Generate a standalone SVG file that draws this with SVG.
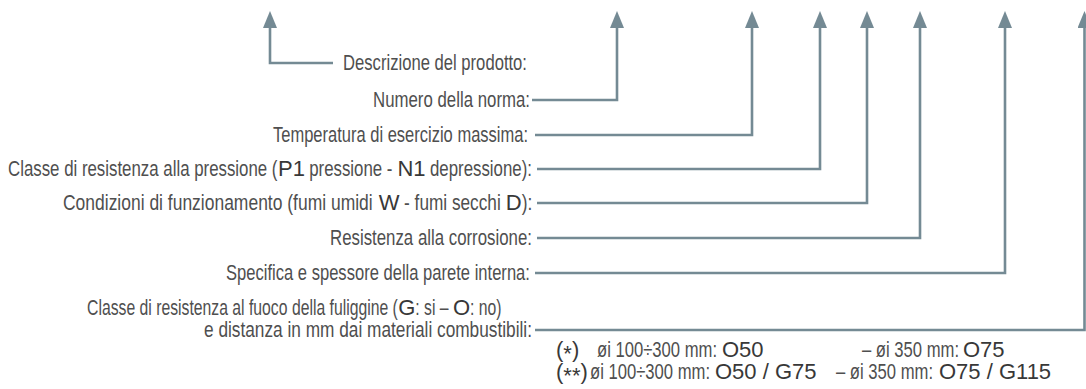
<svg xmlns="http://www.w3.org/2000/svg" width="1086" height="389" viewBox="0 0 1086 389">
<style>
.c{font-family:"Liberation Sans",Arial,sans-serif;font-size:22px;fill:#4f4f4f}
.b{font-family:"Liberation Sans",Arial,sans-serif;font-size:22px;fill:#383838}
.ln{fill:none;stroke:#748a94;stroke-width:2.6;marker-end:url(#ah)}
</style>
<defs>
<marker id="ah" viewBox="0 -7 17 14" refX="1" refY="0" markerWidth="17" markerHeight="14" markerUnits="userSpaceOnUse" orient="auto"><path d="M0,-7 L17,0 L0,7 Z" fill="#748a94"/></marker>
</defs>
<rect width="1086" height="389" fill="#ffffff"/>
<g id="connectors">
<path class="ln" d="M333,63 H270 V27"/>
<path class="ln" d="M532,100 H617 V27"/>
<path class="ln" d="M535,135 H752 V27"/>
<path class="ln" d="M537,169 H820 V27"/>
<path class="ln" d="M537,203 H867 V27"/>
<path class="ln" d="M537,238 H920 V27"/>
<path class="ln" d="M535,273 H1005 V27"/>
<path class="ln" d="M535,330 H1084.5 V27"/>
</g>
<g id="descrizione"><text class="c" transform="translate(343,70) scale(0.7562,1)">Descrizione del prodotto:</text></g>
<g id="norma"><text class="c" transform="translate(373,107) scale(0.7644,1)">Numero della norma:</text></g>
<g id="temperatura"><text class="c" transform="translate(273,142) scale(0.7508,1)">Temperatura di esercizio massima:</text></g>
<g id="pressione">
<text class="c" transform="translate(8,176) scale(0.7657,1)">Classe di resistenza alla pressione (</text>
<text class="b" x="278" y="176">P1</text>
<text class="c" transform="translate(309.2,176) scale(0.7656,1)">pressione -</text>
<text class="b" x="397.4" y="176">N1</text>
<text class="c" transform="translate(430,176) scale(0.7652,1)">depressione):</text>
</g>
<g id="condizioni">
<text class="c" transform="translate(63,210) scale(0.794,1)">Condizioni di funzionamento (fumi umidi</text>
<text class="b" x="378.8" y="210">W</text>
<text class="c" transform="translate(404.1,210) scale(0.783,1)">- fumi secchi</text>
<text class="b" x="505.8" y="210">D</text>
<text class="c" transform="translate(521.8,210) scale(0.789,1)">):</text>
</g>
<g id="corrosione"><text class="c" transform="translate(330,245) scale(0.765,1)">Resistenza alla corrosione:</text></g>
<g id="parete"><text class="c" transform="translate(226,280) scale(0.7534,1)">Specifica e spessore della parete interna:</text></g>
<g id="fuoco">
<text class="c" transform="translate(87,315) scale(0.7165,1)">Classe di resistenza al fuoco della fuliggine (</text>
<text class="b" x="398.3" y="315">G</text>
<text class="c" transform="translate(415.3,315) scale(0.716,1)">: si –</text>
<text class="b" x="453" y="315">O</text>
<text class="c" transform="translate(470.1,315) scale(0.716,1)">: no)</text>
<text class="c" transform="translate(204,337) scale(0.7845,1)">e distanza in mm dai materiali combustibili:</text>
</g>
<g id="nota1">
<text class="b" x="556" y="357">(<tspan dy="4">*</tspan><tspan dy="-4">)</tspan></text>
<text class="c" transform="translate(597,357) scale(0.7564,1)">øi 100÷300 mm:</text>
<text class="b" x="722" y="357">O50</text>
<text class="c" transform="translate(862,357) scale(0.7564,1)">– øi 350 mm:</text>
<text class="b" x="963" y="357">O75</text>
</g>
<g id="nota2">
<text class="b" x="556" y="379">(<tspan dy="4">**</tspan><tspan dy="-4">)</tspan></text>
<text class="c" transform="translate(590,379) scale(0.7564,1)">øi 100÷300 mm:</text>
<text class="b" x="715" y="379">O50 / G75</text>
<text class="c" transform="translate(836,379) scale(0.7564,1)">– øi 350 mm:</text>
<text class="b" x="939" y="379">O75 / G115</text>
</g>
</svg>
